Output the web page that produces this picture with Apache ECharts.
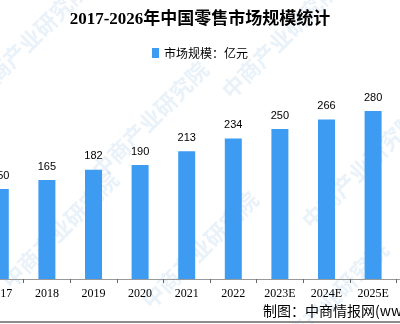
<!DOCTYPE html>
<html>
<head>
<meta charset="utf-8">
<script src="https://cdn.jsdelivr.net/npm/echarts@6/dist/echarts.min.js"></script>
<style>
  html, body { margin: 0; padding: 0; background: #fff; }
  #chart { width: 400px; height: 324px; }
</style>
</head>
<body>
<div id="chart"></div>
<script>
// the picture is a crop: 2017 is cut at the left, 2026E lies past the right edge
const years = ['2017', '2018', '2019', '2020', '2021', '2022', '2023E', '2024E', '2025E', '2026E'];
const marketSize = [150, 165, 182, 190, 213, 234, 250, 266, 280, 295];
const seriesName = '市场规模：亿元';

const myChart = echarts.init(document.getElementById('chart'));

// faint diagonal watermark
const marks = [[30, 40], [150, 120], [280, 40], [60, 230], [200, 250], [360, 170], [330, 300]].map(function (p) {
    return {
        type: 'text',
        x: p[0], y: p[1],
        rotation: Math.PI / 4,
        silent: true,
        z: 0,
        style: {
            text: '中商产业研究院',
            fill: 'rgba(120,170,215,0.16)',
            font: 'bold 22px "Noto Sans CJK SC"',
            align: 'center',
            verticalAlign: 'middle'
        }
    };
});

myChart.setOption({
    animation: false,
    title: {
        text: '2017-2026年中国零售市场规模统计',
        left: 'center',
        top: 6,
        textStyle: {
            fontFamily: '"Liberation Serif", "Noto Sans CJK SC"',
            fontWeight: 'bold',
            fontSize: 17,
            color: '#000'
        }
    },
    legend: {
        data: [seriesName],
        left: 'center',
        top: 42,
        itemWidth: 7,
        itemHeight: 10,
        icon: 'rect',
        textStyle: {
            fontFamily: '"Noto Sans CJK SC"',
            fontSize: 12,
            color: '#000'
        }
    },
    grid: {
        left: -23,
        right: -43,
        top: 99,
        bottom: 45,
        containLabel: false,
        outerBoundsMode: 'none'
    },
    xAxis: {
        type: 'category',
        data: years,
        axisLine: { lineStyle: { color: '#999', width: 1 } },
        axisTick: { show: true, length: 4, lineStyle: { color: '#666' } },
        axisLabel: {
            interval: 0,
            margin: 9,
            fontFamily: '"Liberation Serif"',
            fontSize: 12,
            color: '#000'
        }
    },
    yAxis: {
        type: 'value',
        min: 0,
        max: 300,
        show: false,
        splitLine: { show: false }
    },
    series: [{
        name: seriesName,
        type: 'bar',
        data: marketSize,
        barWidth: 17,
        itemStyle: { color: '#3d9cf2' },
        label: {
            show: true,
            position: 'top',
            distance: 8,
            fontFamily: '"Liberation Sans"',
            fontSize: 11,
            color: '#000'
        }
    }],
    graphic: marks.concat([
        {
            type: 'text',
            left: 263,
            top: 304,
            style: {
                text: '制图：中商情报网(www.askci.com)',
                fill: '#000',
                font: '14px "Noto Sans CJK SC"'
            }
        },
        {
            type: 'rect',
            shape: { x: 0, y: 321, width: 400, height: 2 },
            style: { fill: '#8c8c8c' },
            silent: true
        }
    ])
});
</script>
</body>
</html>
